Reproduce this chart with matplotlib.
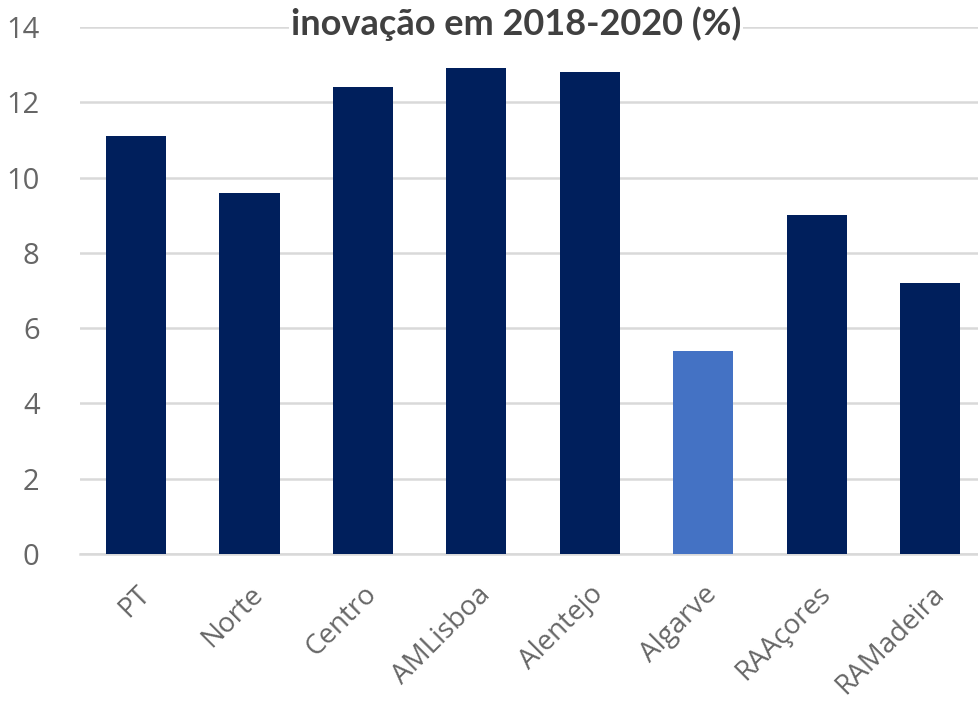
import matplotlib.pyplot as plt

regions = ['PT', 'Norte', 'Centro', 'AMLisboa', 'Alentejo', 'Algarve', 'RAAçores', 'RAMadeira']
values = [11.1, 9.6, 12.4, 12.9, 12.8, 5.4, 9.0, 7.2]
highlight = 'Algarve'
yticks = [0, 2, 4, 6, 8, 10, 12, 14]

navy = '#001f5c'
light = '#4472c4'
colors = [light if r == highlight else navy for r in regions]

fig = plt.figure(figsize=(9.79, 7.06), dpi=100)
ax = fig.add_axes([0.0817, 0.2153, 0.9183, 0.7465])

x = list(range(len(regions)))
ax.bar(x, values, width=0.53, color=colors, zorder=3)

ax.set_ylim(0, 14)
ax.set_xlim(-0.494, 7.432)
ax.set_yticks(yticks)
ax.yaxis.grid(True, color='#d9d9d9', linewidth=1.8, zorder=0)
ax.set_axisbelow(True)
for s in ['top', 'right', 'left']:
    ax.spines[s].set_visible(False)
ax.spines['bottom'].set_color('#d9d9d9')
ax.spines['bottom'].set_linewidth(1.8)
ax.tick_params(axis='y', length=0, labelsize=21, labelcolor='#666666', pad=29)
ax.tick_params(axis='x', length=0, labelsize=20, labelcolor='#666666', pad=19)
ax.set_xticks(x)
ax.set_xticklabels(regions, rotation=45, ha='right', rotation_mode='anchor',
                   family=['Open Sans', 'DejaVu Sans'])
for lab in ax.get_yticklabels():
    lab.set_family(['Open Sans', 'DejaVu Sans'])

fig.text(0.527, 0.966, 'inovação em 2018-2020 (%)', ha='center', va='center',
         fontsize=26, fontweight='bold', color='#404040',
         family=['Lato', 'DejaVu Sans'],
         bbox=dict(facecolor='white', edgecolor='none', pad=1))

fig.savefig('out.png', dpi=100)
